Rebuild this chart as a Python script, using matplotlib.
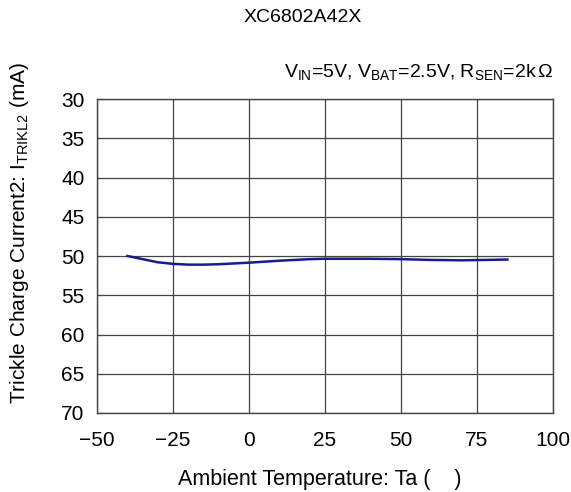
import matplotlib
matplotlib.use("Agg")
import matplotlib.pyplot as plt

plt.rcParams['font.family'] = ['Liberation Sans', 'DejaVu Sans']
plt.rcParams['mathtext.fontset'] = 'custom'
plt.rcParams['mathtext.rm'] = 'Liberation Sans'
plt.rcParams['mathtext.it'] = 'Liberation Sans'

# temperature (degC) and trickle charge current (mA)
temp = [-40, -35, -30, -25, -20, -15, -10, -5, 0, 10, 20, 25, 40, 50, 60, 70, 85]
current = [50.0, 50.4, 50.8, 51.0, 51.1, 51.1, 51.05, 50.95, 50.85, 50.6, 50.4,
           50.35, 50.35, 50.4, 50.5, 50.55, 50.45]

xticks = [-50, -25, 0, 25, 50, 75, 100]
yticks = [30, 35, 40, 45, 50, 55, 60, 65, 70]

fig = plt.figure(figsize=(5.71, 4.92), dpi=100)
ax = fig.add_axes([97/571, 1 - 413/492, (553-97)/571, (413-99)/492])

ax.plot(temp, current, color='#1a1a96', lw=1.8, solid_joinstyle='round')

ax.set_xlim(-50, 100)
ax.set_ylim(70, 30)
ax.set_xticks(xticks)
ax.set_yticks(yticks)
ax.set_xticklabels([str(t).replace('-', '\u2212') for t in xticks])
ax.grid(True, color='#444444', lw=0.9)
ax.tick_params(axis='both', labelsize=15, direction='in', length=4, color='#444444')
ax.tick_params(axis='x', length=0, pad=13)
ax.tick_params(axis='y', pad=9)
for s in ax.spines.values():
    s.set_color('#444444')
    s.set_linewidth(1.0)

fig.text(303/571, 1 - 18/492, 'XC6802A42X', ha='center', va='center', fontsize=14)
fig.text(553/571, 1 - 72/492,
         r'V$_{\rm IN}$=5V, V$_{\rm BAT}$=2.5V, R$_{\rm SEN}$=2k$\,\Omega$',
         ha='right', va='center', fontsize=14)
fig.text(320/571, 1 - 480/492, 'Ambient Temperature: Ta (    )',
         ha='center', va='center', fontsize=15.5)
fig.text(20/571, 1 - 233/492, r'Trickle Charge Current2: I$_{\rm TRIKL2}$ (mA)',
         ha='center', va='center', rotation=90, fontsize=15)

fig.savefig('out.png', dpi=100)
